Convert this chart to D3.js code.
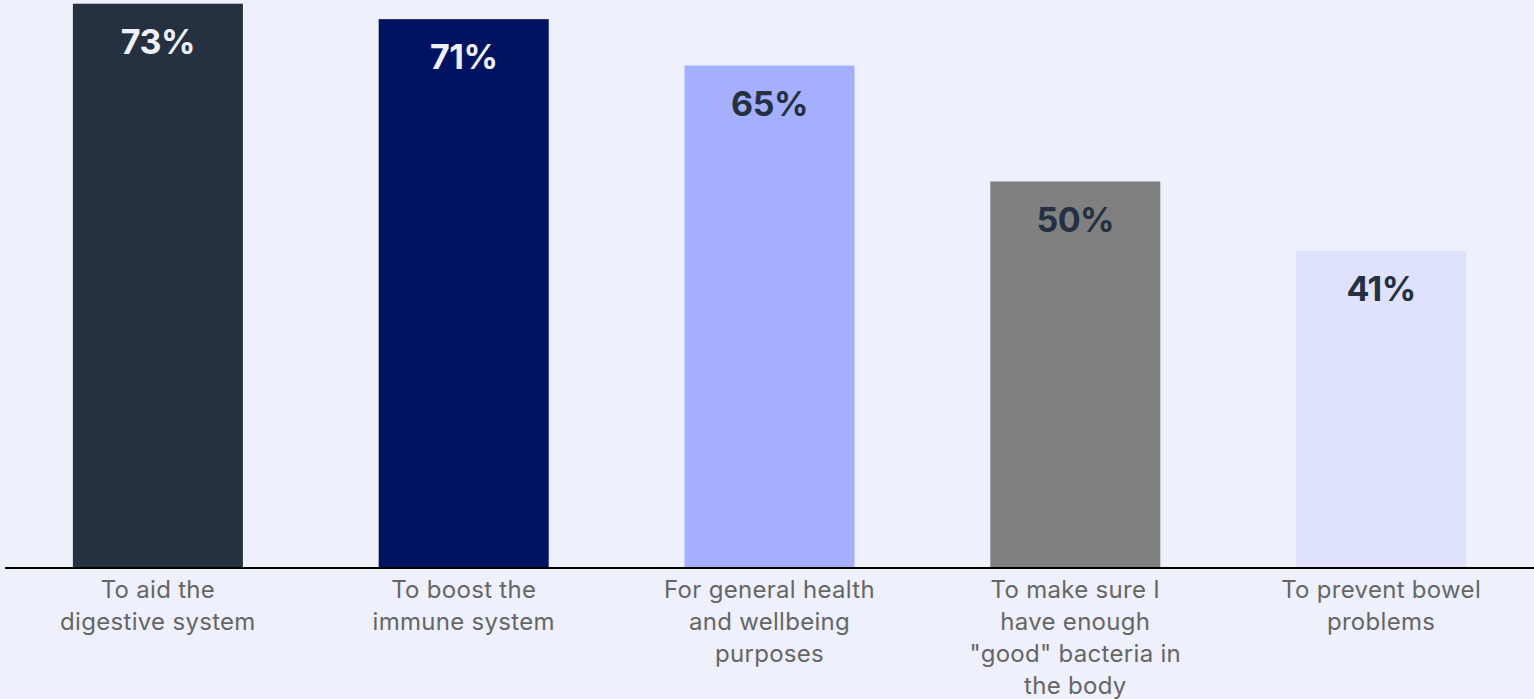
<!DOCTYPE html>
<html>
<head>
<meta charset="utf-8">
<script src="https://cdn.jsdelivr.net/npm/d3@7"></script>
<style>
  html, body { margin: 0; padding: 0; background: #EEF0FC; }
  svg { display: block; }
</style>
</head>
<body>
<svg id="chart" width="1534" height="699"></svg>
<script>
// Reasons for taking probiotics (share of respondents, %)
const categories = [
  ["To aid the", "digestive system"],
  ["To boost the", "immune system"],
  ["For general health", "and wellbeing", "purposes"],
  ["To make sure I", "have enough", "\"good\" bacteria in", "the body"],
  ["To prevent bowel", "problems"]
];
const values = [73, 71, 65, 50, 41];
const barColors = ["#253141", "#001260", "#A4B0FF", "#808080", "#DEE2FD"];
const labelColors = ["#EEF0FC", "#EEF0FC", "#253141", "#253141", "#253141"];

const W = 1534, H = 699;
const baseY = 568;

const svg = d3.select("#chart");

const x = d3.scaleBand()
  .domain(d3.range(values.length))
  .range([5, 1534])
  .paddingInner(0.444)
  .paddingOuter(0.222);

const y = d3.scaleLinear()
  .domain([0, 100])
  .range([baseY, baseY - 773]);

// bars
svg.selectAll("rect.bar")
  .data(values)
  .join("rect")
  .attr("class", "bar")
  .attr("x", (d, i) => x(i))
  .attr("y", d => y(d))
  .attr("width", x.bandwidth())
  .attr("height", d => y(0) - y(d))
  .attr("fill", (d, i) => barColors[i]);

// value labels inside bar tops
svg.selectAll("text.val")
  .data(values)
  .join("text")
  .attr("class", "val")
  .attr("x", (d, i) => x(i) + x.bandwidth() / 2)
  .attr("y", d => y(d) + 50)
  .attr("text-anchor", "middle")
  .attr("font-family", "Inter, 'Liberation Sans', sans-serif")
  .attr("font-weight", 700)
  .attr("font-size", 34)
  .attr("letter-spacing", "-0.5px")
  .attr("fill", (d, i) => labelColors[i])
  .text(d => d + "%");

// baseline axis
const xAxis = d3.axisBottom(x).tickSize(0).tickFormat("");
const axisG = svg.append("g")
  .attr("transform", `translate(0,${baseY})`)
  .call(xAxis);
axisG.select(".domain")
  .attr("d", "M5,0H1534")
  .attr("stroke", "#000")
  .attr("stroke-width", 2);

// category labels (wrapped)
const cat = svg.selectAll("text.cat")
  .data(categories)
  .join("text")
  .attr("class", "cat")
  .attr("text-anchor", "middle")
  .attr("font-family", "Inter, 'Liberation Sans', sans-serif")
  .attr("font-size", 24)
  .attr("letter-spacing", "0.3px")
  .attr("fill", "#666666");
cat.each(function(lines, i) {
  d3.select(this).selectAll("tspan")
    .data(lines)
    .join("tspan")
    .attr("x", x(i) + x.bandwidth() / 2)
    .attr("y", (l, j) => baseY + 30 + j * 32)
    .text(l => l);
});
</script>
</body>
</html>
